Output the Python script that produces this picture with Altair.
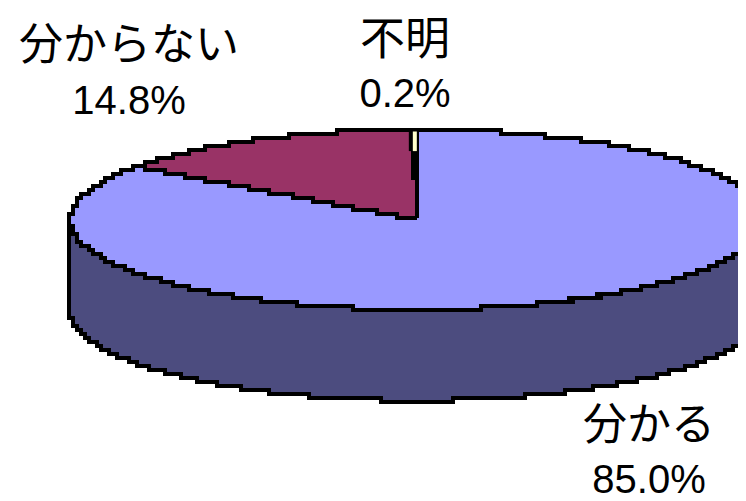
import numpy as np
import pandas as pd
import altair as alt

categories = ["分かる", "分からない", "不明"]
shares = [85.0, 14.8, 0.2]
share_labels = ["85.0%", "14.8%", "0.2%"]
slice_colors = ["#9999FF", "#993366", "#FFFFCC"]
side_color = "#4C4C7F"

CX, CY, RX, RY, DEPTH = 417, 219.5, 347, 90, 91
GRID = 4
label_pos = {"分かる": (649, 427, 480.5), "分からない": (129, 47, 102), "不明": (405, 41, 95)}
name_size = {"分かる": 44, "分からない": 44, "不明": 45}


def ell(theta):
    return CX + RX * np.sin(theta), CY - RY * np.cos(theta)


def snap(xs, ys):
    pts = []
    for x, y in zip(xs, ys):
        p = (round((x - 1) / GRID) * GRID + 1, round((y - 2) / GRID) * GRID + 2)
        if not pts or pts[-1] != p:
            pts.append(p)
    return pd.DataFrame({"x": [p[0] for p in pts], "y": [p[1] for p in pts], "i": range(len(pts))})


def wedge(a0, a1):
    t = np.linspace(a0, a1, 600)
    xs, ys = ell(t)
    r = np.linspace(0, 1, 200)
    x0, y0 = xs[0], ys[0]
    x1, y1 = xs[-1], ys[-1]
    px = [*(CX + r * (x0 - CX)), *xs, *(x1 + r * (CX - x1))]
    py = [*(CY + r * (y0 - CY)), *ys, *(y1 + r * (CY - y1))]
    return snap(px, py)


def side():
    t = np.linspace(np.pi / 2, 3 * np.pi / 2, 800)
    xs, ys = ell(t)
    return snap([*xs, *xs[::-1], xs[0]], [*ys, *(ys[::-1] + DEPTH), ys[0]])


X = alt.X("x:Q", scale=alt.Scale(domain=[8, 738]), axis=None)
Y = alt.Y("y:Q", scale=alt.Scale(domain=[501, 8]), axis=None)


def poly(df, color):
    return alt.Chart(df).mark_line(
        fill=color, stroke="black", strokeWidth=4, interpolate="step-after", clip=True, strokeJoin="miter"
    ).encode(x=X, y=Y, order=alt.Order("i:Q"))


edges = np.cumsum([0] + shares) / 100 * 2 * np.pi
layers = [poly(side(), side_color)]
for k in range(3):
    layers.append(poly(wedge(edges[k], edges[k + 1]), slice_colors[k]))

# the narrow 不明 slice: cream sliver beside its dark edge
sx = (ell(edges[2])[0] + ell(edges[3])[0]) / 2
top = CY - RY + 2
low = CY - RY * 0.76
sliver = pd.DataFrame({"x": [sx - 4, sx], "y": [top - 2, top], "y2": [low, low], "c": ["black", slice_colors[2]]})
layers.append(
    alt.Chart(sliver).mark_rule(strokeWidth=4, clip=True).encode(
        x=X, y=Y, y2="y2:Q", color=alt.Color("c:N", scale=None, legend=None)
    )
)

name_rows = [{"x": label_pos[c][0], "y": label_pos[c][1], "t": c, "size": name_size[c]} for c in categories]
pct_rows = [{"x": label_pos[c][0], "y": label_pos[c][2], "t": s, "size": 40} for c, s in zip(categories, share_labels)]
names = alt.Chart(pd.DataFrame(name_rows)).mark_text(
    font="Noto Sans CJK JP", color="black", align="center", baseline="middle"
).encode(x=X, y=Y, text="t:N", size=alt.Size("size:Q", scale=None, legend=None))
pcts = alt.Chart(pd.DataFrame(pct_rows)).mark_text(
    font="Liberation Sans", color="black", align="center", baseline="middle"
).encode(x=X, y=Y, text="t:N", size=alt.Size("size:Q", scale=None, legend=None))

chart = alt.layer(*layers, names, pcts).properties(
    width=730, height=493, padding=0, background="white"
).configure_view(stroke=None)
chart.save("out.html", embed_options={"renderer": "svg", "actions": False})
